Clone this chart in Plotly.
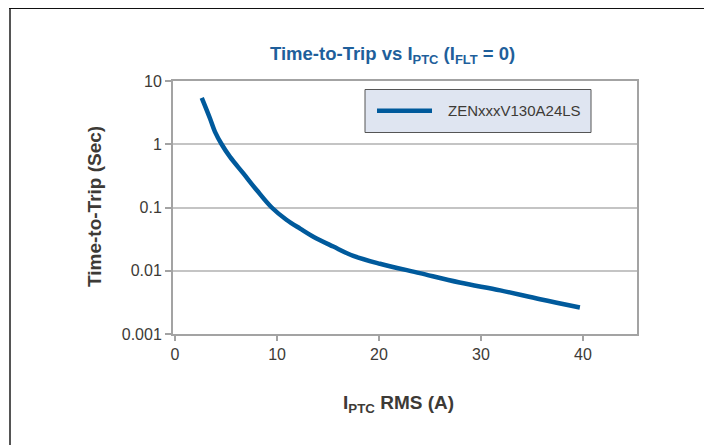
import plotly.graph_objects as go

# Data
current_a = [2.62, 3.43, 3.92, 4.57, 5.39, 6.7, 8.0, 9.48, 10.95, 12.3, 13.56, 15.52, 17.48, 20.1, 24.0, 27.9, 31.9, 35.8, 39.7]
trip_time_s = [5.4, 2.55, 1.57, 1.0, 0.63, 0.346, 0.189, 0.1, 0.0635, 0.046, 0.0345, 0.0241, 0.0172, 0.0129, 0.00916, 0.00652, 0.0049, 0.00355, 0.00263]
series_name = "ZENxxxV130A24LS"
x_ticks = [0, 10, 20, 30, 40]
y_ticks = [0.001, 0.01, 0.1, 1, 10]
y_tick_labels = ["0.001", "0.01", "0.1", "1", "10"]

OFF = 8  # page body margin
W, H = 712 - OFF, 445 - OFF
L, R, T, B = 173 - OFF, 75, 81 - OFF, 111
line_color = "#005a9c"
axis_gray = "#a3a3a3"
text_gray = "#3d3a36"
FONT = "Liberation Sans, Arial, sans-serif"

fig = go.Figure()
fig.add_trace(go.Scatter(
    x=current_a, y=trip_time_s, mode="lines", name=series_name,
    line=dict(color=line_color, width=4.5, shape="spline", smoothing=1.0),
    showlegend=False,
))

pw = W - L - R
ph = H - T - B

def px(xp):  # page pixel -> paper
    return (xp - OFF - L) / pw

def py(yp):
    return (H - B - (yp - OFF)) / ph

shapes = [
    dict(type="line", xref="paper", yref="paper", x0=px(10), x1=px(10), y0=py(8), y1=py(460),
         line=dict(color="#555555", width=2)),
    dict(type="line", xref="paper", yref="paper", x0=px(9), x1=px(707), y0=py(8), y1=py(8),
         line=dict(color="#111111", width=2)),
    dict(type="line", xref="paper", yref="paper", x0=px(707), x1=px(707), y0=py(8), y1=py(460),
         line=dict(color="#111111", width=2)),
    dict(type="rect", xref="paper", yref="paper", x0=px(365), x1=px(591), y0=py(89.5), y1=py(132.5),
         fillcolor="#dfe5f1", line=dict(color="#555555", width=1)),
    dict(type="line", xref="paper", yref="paper", x0=px(377), x1=px(432), y0=py(110.7), y1=py(110.7),
         line=dict(color=line_color, width=4.5)),
]

annotations = [
    dict(text=series_name, xref="paper", yref="paper", x=px(446), y=py(110.7),
         xanchor="left", yanchor="middle", showarrow=False,
         font=dict(family=FONT, size=15, color=text_gray)),
    dict(text="<b>Time-to-Trip vs I<sub>PTC</sub> (I<sub>FLT</sub> = 0)</b>", xref="paper", yref="paper",
         x=px(392), y=py(55), xanchor="center", yanchor="middle", showarrow=False,
         font=dict(family=FONT, size=18.5, color="#1f5f9b")),
    dict(text="<b>Time-to-Trip (Sec)</b>", xref="paper", yref="paper", x=px(94), y=py(207),
         xanchor="center", yanchor="middle", textangle=-90, showarrow=False,
         font=dict(family=FONT, size=19, color=text_gray)),
    dict(text="<b>I<sub>PTC</sub> RMS (A)</b>", xref="paper", yref="paper", x=px(398), y=py(404),
         xanchor="center", yanchor="middle", showarrow=False,
         font=dict(family=FONT, size=19, color=text_gray)),
]

fig.update_layout(
    width=W, height=H,
    margin=dict(l=L, r=R, t=T, b=B, pad=0),
    paper_bgcolor="white", plot_bgcolor="white",
    shapes=shapes, annotations=annotations,
    font=dict(family=FONT, size=16, color=text_gray),
)
fig.update_xaxes(
    range=[-0.2, 45.3], tickvals=x_ticks, ticktext=[str(v) for v in x_ticks],
    showgrid=False, zeroline=False,
    showline=True, linecolor=axis_gray, linewidth=2, mirror=True,
    ticks="outside", ticklen=5, tickcolor=axis_gray, tickwidth=1.5,
    tickfont=dict(family=FONT, size=16, color=text_gray),
)
fig.update_yaxes(
    type="log", range=[-3, 1], tickvals=y_ticks, ticktext=y_tick_labels,
    showgrid=True, gridcolor="#c4c4c4", gridwidth=1.5, zeroline=False,
    showline=True, linecolor=axis_gray, linewidth=2, mirror=True,
    ticks="outside", ticklen=6, tickcolor=axis_gray, tickwidth=1.5,
    tickfont=dict(family=FONT, size=16, color=text_gray),
)

fig.write_html("out.html")
